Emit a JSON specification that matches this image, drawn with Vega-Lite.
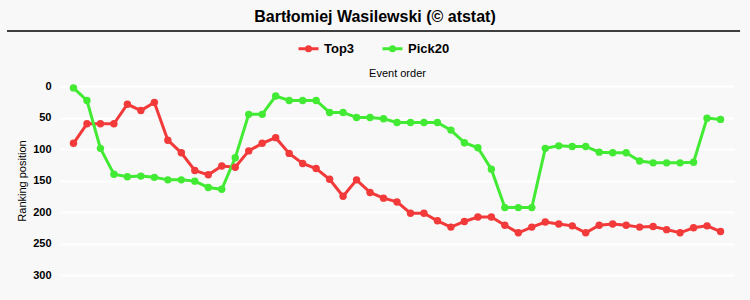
{
  "$schema": "https://vega.github.io/schema/vega-lite/v6.json",
  "width": 674,
  "height": 189,
  "autosize": {"type": "none"},
  "padding": {"left": 60, "top": 86, "right": 16, "bottom": 25},
  "background": "#f8f8f8",
  "title": {
    "text": "Bartłomiej Wasilewski (© atstat)",
    "font": "Liberation Sans",
    "fontSize": 16,
    "fontWeight": "bold",
    "color": "#000000",
    "anchor": "middle",
    "frame": "group",
    "dx": -22,
    "offset": 5
  },
  "config": {
    "view": {"stroke": null},
    "font": "Liberation Sans"
  },
  "resolve": {"axis": {"x": "independent", "y": "independent"}},
  "layer": [
    {
      "data": {
        "values": [
          {"e":1,"s":"Top3","r":91},{"e":2,"s":"Top3","r":60},{"e":3,"s":"Top3","r":60},{"e":4,"s":"Top3","r":60},{"e":5,"s":"Top3","r":29},{"e":6,"s":"Top3","r":39},{"e":7,"s":"Top3","r":26},{"e":8,"s":"Top3","r":86},{"e":9,"s":"Top3","r":106},{"e":10,"s":"Top3","r":134},
          {"e":11,"s":"Top3","r":141},{"e":12,"s":"Top3","r":127},{"e":13,"s":"Top3","r":129},{"e":14,"s":"Top3","r":103},{"e":15,"s":"Top3","r":91},{"e":16,"s":"Top3","r":82},{"e":17,"s":"Top3","r":107},{"e":18,"s":"Top3","r":123},{"e":19,"s":"Top3","r":131},{"e":20,"s":"Top3","r":148},
          {"e":21,"s":"Top3","r":175},{"e":22,"s":"Top3","r":149},{"e":23,"s":"Top3","r":169},{"e":24,"s":"Top3","r":178},{"e":25,"s":"Top3","r":184},{"e":26,"s":"Top3","r":202},{"e":27,"s":"Top3","r":202},{"e":28,"s":"Top3","r":214},{"e":29,"s":"Top3","r":224},{"e":30,"s":"Top3","r":215},
          {"e":31,"s":"Top3","r":208},{"e":32,"s":"Top3","r":208},{"e":33,"s":"Top3","r":221},{"e":34,"s":"Top3","r":233},{"e":35,"s":"Top3","r":224},{"e":36,"s":"Top3","r":216},{"e":37,"s":"Top3","r":219},{"e":38,"s":"Top3","r":222},{"e":39,"s":"Top3","r":233},{"e":40,"s":"Top3","r":221},
          {"e":41,"s":"Top3","r":219},{"e":42,"s":"Top3","r":221},{"e":43,"s":"Top3","r":224},{"e":44,"s":"Top3","r":223},{"e":45,"s":"Top3","r":228},{"e":46,"s":"Top3","r":233},{"e":47,"s":"Top3","r":225},{"e":48,"s":"Top3","r":222},{"e":49,"s":"Top3","r":231},
          {"e":1,"s":"Pick20","r":3},{"e":2,"s":"Pick20","r":23},{"e":3,"s":"Pick20","r":99},{"e":4,"s":"Pick20","r":140},{"e":5,"s":"Pick20","r":144},{"e":6,"s":"Pick20","r":143},{"e":7,"s":"Pick20","r":145},{"e":8,"s":"Pick20","r":149},{"e":9,"s":"Pick20","r":149},{"e":10,"s":"Pick20","r":151},
          {"e":11,"s":"Pick20","r":161},{"e":12,"s":"Pick20","r":164},{"e":13,"s":"Pick20","r":114},{"e":14,"s":"Pick20","r":45},{"e":15,"s":"Pick20","r":45},{"e":16,"s":"Pick20","r":16},{"e":17,"s":"Pick20","r":23},{"e":18,"s":"Pick20","r":23},{"e":19,"s":"Pick20","r":23},{"e":20,"s":"Pick20","r":42},
          {"e":21,"s":"Pick20","r":42},{"e":22,"s":"Pick20","r":50},{"e":23,"s":"Pick20","r":50},{"e":24,"s":"Pick20","r":52},{"e":25,"s":"Pick20","r":58},{"e":26,"s":"Pick20","r":58},{"e":27,"s":"Pick20","r":58},{"e":28,"s":"Pick20","r":58},{"e":29,"s":"Pick20","r":70},{"e":30,"s":"Pick20","r":90},
          {"e":31,"s":"Pick20","r":98},{"e":32,"s":"Pick20","r":132},{"e":33,"s":"Pick20","r":193},{"e":34,"s":"Pick20","r":193},{"e":35,"s":"Pick20","r":193},{"e":36,"s":"Pick20","r":99},{"e":37,"s":"Pick20","r":95},{"e":38,"s":"Pick20","r":96},{"e":39,"s":"Pick20","r":96},{"e":40,"s":"Pick20","r":105},
          {"e":41,"s":"Pick20","r":106},{"e":42,"s":"Pick20","r":106},{"e":43,"s":"Pick20","r":119},{"e":44,"s":"Pick20","r":122},{"e":45,"s":"Pick20","r":122},{"e":46,"s":"Pick20","r":122},{"e":47,"s":"Pick20","r":121},{"e":48,"s":"Pick20","r":51},{"e":49,"s":"Pick20","r":53}
        ]
      },
      "mark": {"type": "line", "strokeWidth": 3, "point": {"filled": true, "size": 55}},
      "encoding": {
        "x": {
          "field": "e",
          "type": "quantitative",
          "scale": {"domain": [0, 50]},
          "axis": {
            "orient": "top",
            "title": "Event order",
            "labels": false,
            "ticks": false,
            "domain": false,
            "grid": false,
            "titleFont": "Liberation Sans",
            "titleFontWeight": "normal",
            "titleFontSize": 11,
            "titleColor": "#000000",
            "titlePadding": 8
          }
        },
        "y": {
          "field": "r",
          "type": "quantitative",
          "scale": {"domain": [0, 300], "reverse": true},
          "axis": {
            "values": [0, 50, 100, 150, 200, 250, 300],
            "labelOverlap": false,
            "grid": true,
            "gridColor": "#ffffff",
            "gridWidth": 2,
            "domain": false,
            "ticks": false,
            "labelFont": "Liberation Sans",
            "labelFontWeight": "bold",
            "labelFontSize": 11,
            "labelColor": "#000000",
            "labelPadding": 9,
            "title": "Ranking position",
            "titleFont": "Liberation Sans",
            "titleFontWeight": "normal",
            "titleFontSize": 11,
            "titleColor": "#000000",
            "titlePadding": 5
          }
        },
        "color": {
          "field": "s",
          "type": "nominal",
          "sort": ["Top3", "Pick20"],
          "scale": {"domain": ["Top3", "Pick20"], "range": ["#f23a3a", "#42ea34"]},
          "legend": {
            "title": null,
            "orient": "none",
            "direction": "horizontal",
            "legendX": 237,
            "legendY": -49,
            "labelFont": "Liberation Sans",
            "labelFontWeight": "bold",
            "labelFontSize": 13,
            "labelColor": "#000000",
            "symbolType": "M-1,0L1,0M-0.2,0A0.2,0.2,0,1,1,0.2,0A0.2,0.2,0,1,1,-0.2,0",
            "symbolSize": 400,
            "symbolStrokeWidth": 3,
            "columnPadding": 21,
            "labelOffset": 4
          }
        }
      }
    },
    {
      "data": {"values": [{}]},
      "mark": {"type": "rule", "color": "#000000", "strokeWidth": 1.5},
      "encoding": {
        "x": {"datum": -3.93, "type": "quantitative", "axis": null},
        "x2": {"datum": 50.45},
        "y": {"datum": -87.3, "type": "quantitative", "axis": null}
      }
    }
  ]
}
